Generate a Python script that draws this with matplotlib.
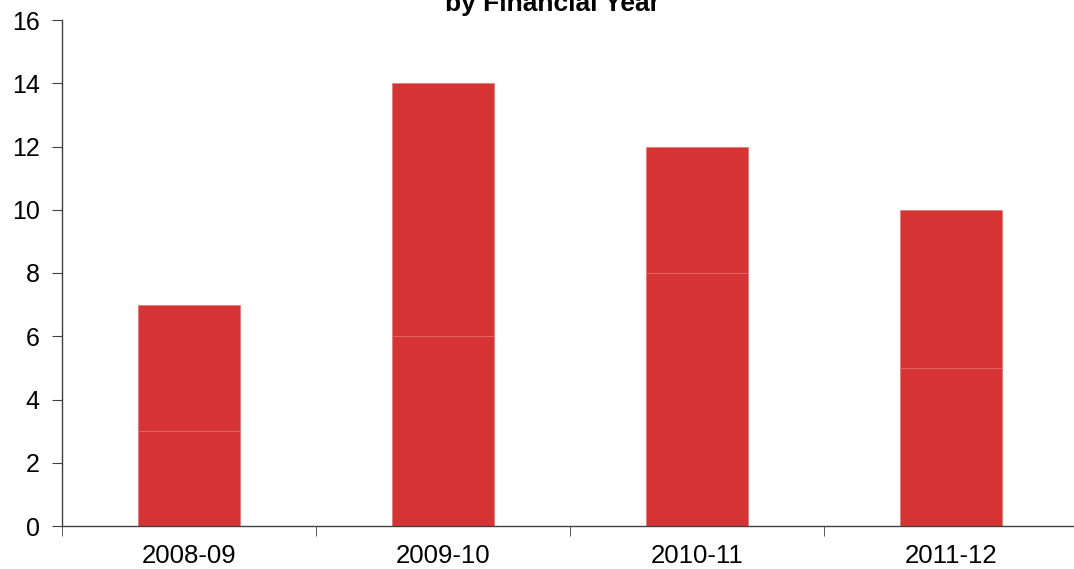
import numpy as np
import matplotlib
matplotlib.use("Agg")
import matplotlib.pyplot as plt

years = ["2008-09", "2009-10", "2010-11", "2011-12"]
lower = [3, 6, 8, 5]
upper = [4, 8, 4, 5]

plt.rcParams['font.family'] = ['Liberation Sans', 'DejaVu Sans']

fig = plt.figure(figsize=(10.74, 5.69), dpi=100)
ax = fig.add_axes([62/1074, 43/569, 1016/1074, 506/569])

x = np.arange(len(years))
red = '#d63434'
edge = '#e46a6a'
ax.bar(x, lower, width=0.4, color=red, edgecolor=edge, linewidth=0.4)
ax.bar(x, upper, bottom=lower, width=0.4, color=red, edgecolor=edge, linewidth=0.4)

ax.set_xlim(-0.5, len(years) - 0.5)
ax.set_ylim(0, 16)
ax.set_yticks(range(0, 17, 2))
ax.set_xticks(x)
ax.set_xticklabels(years)
ax.set_xticks(np.arange(-0.5, len(years), 1), minor=True)
ax.tick_params(axis='x', which='major', length=0, pad=13, labelsize=18.5)
ax.tick_params(axis='x', which='minor', length=7, color='#404040')
ax.tick_params(axis='y', length=7, color='#404040', labelsize=18, pad=9)

for s in ['top', 'right']:
    ax.spines[s].set_visible(False)
for s in ['left', 'bottom']:
    ax.spines[s].set_color('#404040')
    ax.spines[s].set_linewidth(1)

# the first line of the title sits above the canvas in the original
fig.text(552/1074, 1 - 11/569, "by Financial Year", ha='center', va='baseline',
         fontsize=19, fontweight='bold')

fig.savefig('out.png', dpi=100)
